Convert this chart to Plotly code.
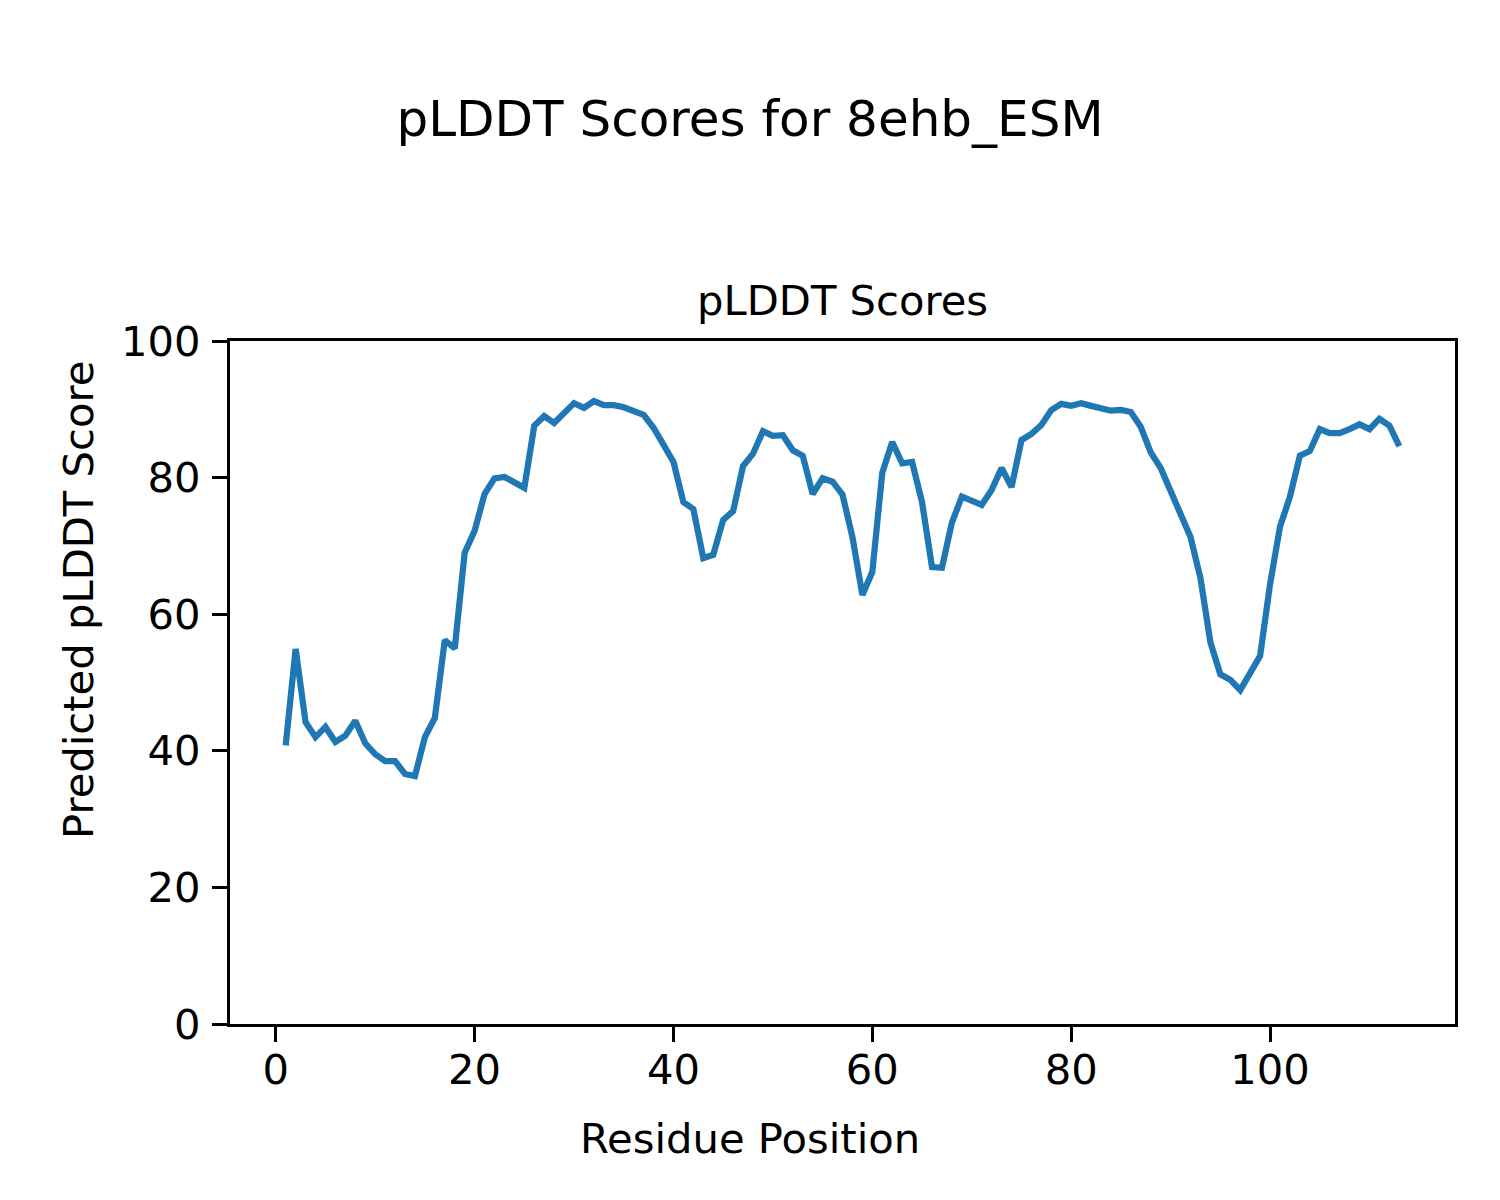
import plotly.graph_objects as go

residues = list(range(1, 114))
plddt = [
    40.8, 54.9, 44.2, 42.0, 43.5, 41.3, 42.2, 44.4, 41.1, 39.5,
    38.5, 38.5, 36.6, 36.3, 42.0, 44.8, 56.2, 55.0, 69.0, 72.2,
    77.6, 79.9, 80.1, 79.4, 78.5, 87.6, 89.0, 88.0, 89.6, 90.9,
    90.2, 91.2, 90.6, 90.6, 90.3, 89.8, 89.2, 87.3, 84.9, 82.3,
    76.4, 75.4, 68.2, 68.7, 73.8, 75.1, 81.7, 83.5, 86.8, 86.1,
    86.2, 84.0, 83.2, 77.6, 79.9, 79.4, 77.5, 71.3, 62.8, 66.2,
    80.7, 85.2, 82.1, 82.3, 76.4, 66.9, 66.8, 73.4, 77.2, 76.6,
    76.0, 78.2, 81.4, 78.6, 85.5, 86.4, 87.7, 89.9, 90.8, 90.5,
    90.9, 90.5, 90.2, 89.8, 89.9, 89.6, 87.4, 83.7, 81.4, 78.0,
    74.4, 71.3, 65.3, 55.9, 51.2, 50.4, 48.9, 51.2, 53.9, 64.4,
    72.8, 77.2, 83.2, 83.9, 87.1, 86.5, 86.5, 87.1, 87.8, 87.1,
    88.6, 87.6, 84.6,
]
x_ticks = [0, 20, 40, 60, 80, 100]
y_ticks = [0, 20, 40, 60, 80, 100]

suptitle = "pLDDT Scores for 8ehb_ESM"
axes_title = "pLDDT Scores"
x_label = "Residue Position"
y_label = "Predicted pLDDT Score"

FONT = "DejaVu Sans"
FS = 41.7

fig = go.Figure()
fig.add_trace(go.Scatter(
    x=residues, y=plddt, mode="lines",
    line=dict(color="#1f77b4", width=6.25),
    showlegend=False,
))

axis_common = dict(
    showgrid=False, zeroline=False,
    showline=True, linecolor="black", linewidth=3.3, mirror=True,
    ticks="outside", ticklen=15, tickwidth=3.3, tickcolor="black",
    tickfont=dict(family=FONT, size=FS, color="black"),
)

fig.update_layout(
    width=1500, height=1200,
    paper_bgcolor="white", plot_bgcolor="white",
    margin=dict(l=222, r=53, t=333, b=184),
    font=dict(family=FONT, color="black"),
    title=dict(text=suptitle, x=742 / 1500, xanchor="center", y=1 - 110 / 1200,
               yanchor="middle", yref="container",
               font=dict(family=FONT, size=50, color="black")),
    xaxis=dict(range=[-4.6, 118.6], tickvals=x_ticks,
               ticktext=[str(v) for v in x_ticks],
               ticklabelstandoff=-8, **axis_common),
    yaxis=dict(range=[0, 100], tickvals=y_ticks,
               ticktext=[str(v) for v in y_ticks],
               ticklabelstandoff=3, **axis_common),
    annotations=[
        dict(text=axes_title, x=0.5, xref="paper", y=1, yref="paper",
             xanchor="center", yanchor="bottom", yshift=14, showarrow=False,
             font=dict(family=FONT, size=FS, color="black")),
        # figure-level x label (centred on the whole figure)
        dict(text=x_label, x=(750 - 230) / 1225, xref="paper", y=0, yref="paper",
             xanchor="center", yanchor="middle", yshift=-114, showarrow=False,
             font=dict(family=FONT, size=FS, color="black")),
        # figure-level y label (centred on the whole figure)
        dict(text=y_label, x=0, xref="paper", y=(1024 - 600) / 683, yref="paper",
             xanchor="center", yanchor="middle", xshift=-152, textangle=-90,
             showarrow=False,
             font=dict(family=FONT, size=FS, color="black")),
    ],
)

fig.write_html("out.html")
